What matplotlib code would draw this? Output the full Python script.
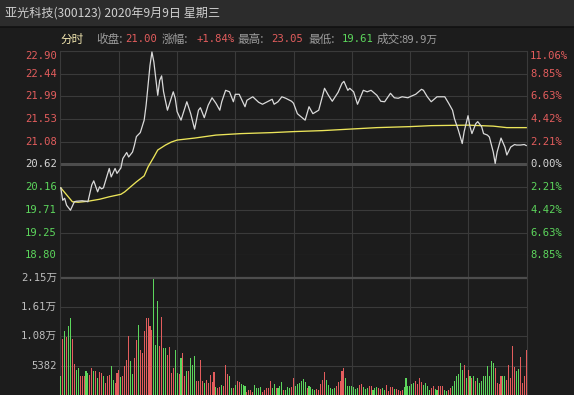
import matplotlib
matplotlib.use("Agg")
import matplotlib.pyplot as plt
from matplotlib.patches import Rectangle
from matplotlib.lines import Line2D

# ---------------- data ----------------
prev_close = 20.62
price_levels = [18.80, 19.25, 19.71, 20.16, 20.62, 21.08, 21.53, 21.99, 22.44, 22.90]
price_labels = ["18.80", "19.25", "19.71", "20.16", "20.62", "21.08", "21.53", "21.99", "22.44", "22.90"]
pct_labels = ["8.85%", "6.63%", "4.42%", "2.21%", "0.00%", "2.21%", "4.42%", "6.63%", "8.85%", "11.06%"]
vol_levels = [5382, 10764, 16146, 21528]
vol_labels = ["5382", "1.08万", "1.61万", "2.15万"]
time_grid = [0, 30, 60, 90, 120, 150, 180, 210, 240]

price_t = [0, 1, 2, 3, 5, 7, 8, 11, 13, 14,
           16, 17, 19, 20, 21, 22, 25, 26, 28, 29,
           31, 32, 34, 35, 37, 38, 39, 40, 41, 43,
           44, 45, 46, 47, 48, 49, 50, 51, 52, 53,
           55, 58, 59, 60, 62, 65, 67, 69, 71, 72,
           74, 76, 78, 80, 82, 83, 85, 87, 89, 90,
           92, 95, 96, 99, 102, 104, 106, 109, 110, 112,
           114, 116, 119, 120, 122, 126, 128, 130, 133, 136,
           138, 140, 143, 145, 146, 148, 149, 151, 153, 156,
           158, 160, 163, 165, 167, 170, 172, 174, 176, 179,
           180, 183, 186, 187, 189, 191, 194, 196, 198, 200,
           202, 203, 205, 207, 208, 210, 211, 212, 214, 215,
           217, 218, 220, 221, 223, 224, 225, 227, 229, 230,
           232, 234, 235, 237, 239, 240]
price_v = [20.15, 19.90, 19.94, 19.80, 19.70, 19.87, 19.88, 19.89, 19.88, 19.87,
           20.21, 20.29, 20.07, 20.17, 20.13, 20.15, 20.54, 20.37, 20.54, 20.44,
           20.55, 20.74, 20.86, 20.77, 20.87, 21.01, 21.18, 21.22, 21.26, 21.51,
           21.81, 22.21, 22.61, 22.88, 22.68, 22.35, 22.01, 22.31, 22.40, 22.08,
           21.71, 22.08, 21.95, 21.68, 21.51, 21.88, 21.64, 21.33, 21.71, 21.76,
           21.56, 21.81, 21.96, 21.85, 21.71, 21.88, 22.11, 22.08, 21.88, 22.03,
           22.03, 21.78, 21.91, 21.98, 21.87, 21.83, 21.87, 21.93, 21.83, 21.88,
           21.98, 21.95, 21.89, 21.85, 21.64, 21.51, 21.78, 21.64, 21.71, 22.15,
           22.01, 21.89, 22.07, 22.25, 22.29, 22.11, 22.15, 22.08, 21.83, 22.11,
           22.08, 22.11, 22.01, 21.89, 21.88, 22.05, 21.96, 21.95, 21.98, 21.96,
           21.98, 22.03, 22.13, 22.11, 21.98, 21.88, 21.98, 21.98, 21.98, 21.85,
           21.71, 21.54, 21.31, 21.04, 21.28, 21.60, 21.38, 21.24, 21.44, 21.48,
           21.38, 21.24, 21.21, 21.17, 20.87, 20.64, 20.87, 21.15, 20.97, 20.81,
           20.97, 21.02, 21.01, 21.01, 21.02, 21.00]

avg_t = [0, 6, 9, 14, 20, 25, 31, 33, 36, 39, 43, 45, 48, 50, 54, 57, 60, 69, 80, 93,
         109, 120, 135, 149, 163, 180, 191, 210, 223, 230, 240]
avg_v = [20.15, 19.87, 19.86, 19.88, 19.92, 19.97, 20.02, 20.07, 20.17, 20.27, 20.39, 20.57,
         20.77, 20.91, 21.01, 21.07, 21.11, 21.15, 21.21, 21.24, 21.26, 21.28, 21.30, 21.33,
         21.36, 21.38, 21.40, 21.41, 21.39, 21.36, 21.36]

volume = [3560, 10270, 11660, 10630, 12700, 14100, 10270, 5750, 4660, 4970,
          3560, 3560, 3430, 4350, 4050, 3745, 4970, 4350, 4350, 3140,
          4170, 4050, 3430, 2230, 3430, 3745, 5260, 2830, 2230, 4050,
          4660, 3325, 3430, 5390, 6360, 10870, 6175, 3930, 6800, 10010,
          12880, 8310, 7710, 11660, 14100, 14100, 12700, 11970, 21230, 9230,
          17320, 8920, 14400, 8620, 8620, 7400, 8800, 4050, 4970, 8310,
          4050, 3930, 6800, 7710, 3430, 4350, 4350, 6800, 5570, 7090,
          2520, 2520, 6490, 2520, 2230, 2830, 2230, 3745, 2340, 4170,
          1500, 1320, 1500, 1800, 1600, 5570, 3930, 3560, 1200, 1200,
          1800, 2650, 2340, 2100, 1800, 1600, 640, 1000, 830, 640,
          1800, 1320, 1200, 1500, 640, 1000, 1320, 1200, 2520, 1200,
          2100, 1320, 1200, 1600, 2340, 1000, 1000, 1500, 1200, 1500,
          3140, 1730, 2100, 2220, 2530, 2950, 2340, 1310, 1610, 1500,
          1130, 1000, 1130, 1000, 2100, 2830, 4170, 2710, 1920, 1310,
          1130, 1310, 1610, 2340, 2530, 4350, 4960, 3140, 1610, 1730,
          1730, 1500, 1130, 1310, 1920, 2040, 1500, 1130, 1310, 1610,
          1610, 1000, 1310, 1500, 1310, 1130, 1310, 1000, 1920, 700,
          1500, 1500, 1130, 1130, 1000, 700, 1000, 1500, 3140, 1610,
          1730, 2100, 2220, 2530, 2100, 3140, 2340, 1920, 2220, 1730,
          1000, 1310, 1610, 1130, 1000, 1730, 1610, 1730, 1000, 700,
          1000, 1310, 1730, 2530, 3440, 3930, 5880, 4540, 5570, 3140,
          4660, 3440, 3140, 3440, 2530, 3140, 2220, 2530, 3440, 3560,
          5270, 3440, 6180, 5880, 4960, 2220, 2000, 3440, 3440, 3440,
          2830, 5570, 3140, 8920, 5150, 4350, 4790, 6970, 2220, 3440,
          8190]
vol_dir = ("GRGRGGRRGG" "RRRGGRRGRG" "RRGRRRGGRR" "RGRRRRGGRR" "GRRRRRRRGG" "GRRGGRRRRG"
           "GRGRRGRGGG" "RRRRGRRRRR" "GRRGRRRGGR" "GRRGGGRRRR" "GGGGRRRRRG" "GRGGGRGGGR"
           "RGGGGGGRGG" "GGRRRRRGGG" "GGRRRRRGGG" "GGGGRRGGGR" "RGGGRRGGRR" "RRGRRRRGGG"
           "GGGRRRRGGG" "GRRGGRRRGG" "RRGGGGGGRG" "RGRGRGGGGG" "GGGGRRRRGG" "RRRRRGGRRR" "R")

title = "亚光科技(300123) 2020年9月9日 星期三"

# ---------------- style ----------------
W, H = 574, 395
BG = "#1c1c1c"
GRID = "#3a3a3a"
RED = "#e35d5d"
GREEN = "#5cd65c"
LABEL = "#bdbdbd"
NUMF = ["DejaVu Sans Mono", "Noto Sans CJK SC"]
CJK = ["Noto Sans CJK SC", "DejaVu Sans"]

fig = plt.figure(figsize=(W / 100, H / 100), dpi=100, facecolor=BG)

def fx(x):
    return x / W

def fy(y):
    return 1 - y / H

# header
fig.add_artist(Rectangle((0, fy(27)), 1, 27 / H, transform=fig.transFigure,
                         facecolor="#2c2c2c", edgecolor="none"))
fig.add_artist(Line2D([0, 1], [fy(27), fy(27)], transform=fig.transFigure,
                      color="#111111", lw=1.2))
fig.text(fx(5), fy(13), title, color="#cfcfcf", fontsize=8.7, family=CJK,
         ha="left", va="center")

hdr = [
    (60, "分时", "#f3e7b0", CJK),
    (96.5, "收盘:", "#9c9c9c", CJK),
    (125, "21.00", RED, NUMF),
    (162, "涨幅:", "#9c9c9c", CJK),
    (196.5, "+1.84%", RED, NUMF),
    (237, "最高:", "#9c9c9c", CJK),
    (271.5, "23.05", RED, NUMF),
    (308, "最低:", "#9c9c9c", CJK),
    (341.5, "19.61", GREEN, NUMF),
    (377, "成交:", "#9c9c9c", CJK),
    (401, "89.9万", "#9c9c9c", NUMF),
]
for x, s, c, fam in hdr:
    fs = 8.4 if fam is CJK else 7.6
    fig.text(fx(x), fy(39.5), s, color=c, fontsize=fs, family=fam, ha="left", va="center")

# axes
ax_p = fig.add_axes([fx(60), 140 / H, 467 / W, 204 / H])
ax_v = fig.add_axes([fx(60), 0, 467 / W, 140 / H])
for ax in (ax_p, ax_v):
    ax.set_facecolor(BG)
    ax.set_xlim(-0.4, 240.4)
    ax.set_xticks([])
    ax.set_yticks([])
    for s in ax.spines.values():
        s.set_color(GRID)
        s.set_linewidth(0.8)
ax_v.spines["top"].set_visible(False)
ax_v.spines["bottom"].set_visible(False)

ax_p.set_ylim(price_levels[0], price_levels[-1])
vmax = vol_levels[-1] * 140 / 117.3
ax_v.set_ylim(0, vmax)

for t in time_grid[1:-1]:
    ax_p.axvline(t, color=GRID, lw=0.8, zorder=1)
    ax_v.axvline(t, color=GRID, lw=0.8, zorder=1)

for lvl, lab, pl in zip(price_levels, price_labels, pct_labels):
    if abs(lvl - prev_close) < 1e-6:
        ax_p.axhline(lvl, color="#4d4d4d", lw=2.2, zorder=1)
        col = "#d6d6d6"
    else:
        ax_p.axhline(lvl, color=GRID, lw=0.8, zorder=1)
        col = RED if lvl > prev_close else GREEN
    va = "top" if lvl == price_levels[-1] else "center"
    ax_p.text(-0.0065, lvl, lab, transform=ax_p.get_yaxis_transform(), ha="right", va=va,
              color=col, fontsize=7.6, family=NUMF, clip_on=False)
    ax_p.text(1.0065, lvl, pl, transform=ax_p.get_yaxis_transform(), ha="left", va=va,
              color=col, fontsize=7.6, family=NUMF, clip_on=False)

for lvl, lab in zip(vol_levels, vol_labels):
    if lvl == vol_levels[-1]:
        ax_v.axhline(lvl, color="#4d4d4d", lw=1.6, zorder=1)
    else:
        ax_v.axhline(lvl, color=GRID, lw=0.8, zorder=1)
    ax_v.text(-0.0065, lvl, lab, transform=ax_v.get_yaxis_transform(), ha="right",
              va="center", color=LABEL, fontsize=7.6, family=NUMF, clip_on=False)

# lines
ax_p.plot(avg_t, avg_v, color="#ece55a", lw=0.95, zorder=3)
ax_p.plot(price_t, price_v, color="#dadada", lw=0.9, zorder=4)

# volume bars (crisp, pixel-snapped)
bar_colors = [RED if d == "R" else GREEN for d in vol_dir]
ax_v.bar(range(len(volume)), volume, width=0.55, color=bar_colors, linewidth=0,
         antialiased=False, zorder=3)

fig.savefig("out.png", dpi=100, facecolor=BG)
